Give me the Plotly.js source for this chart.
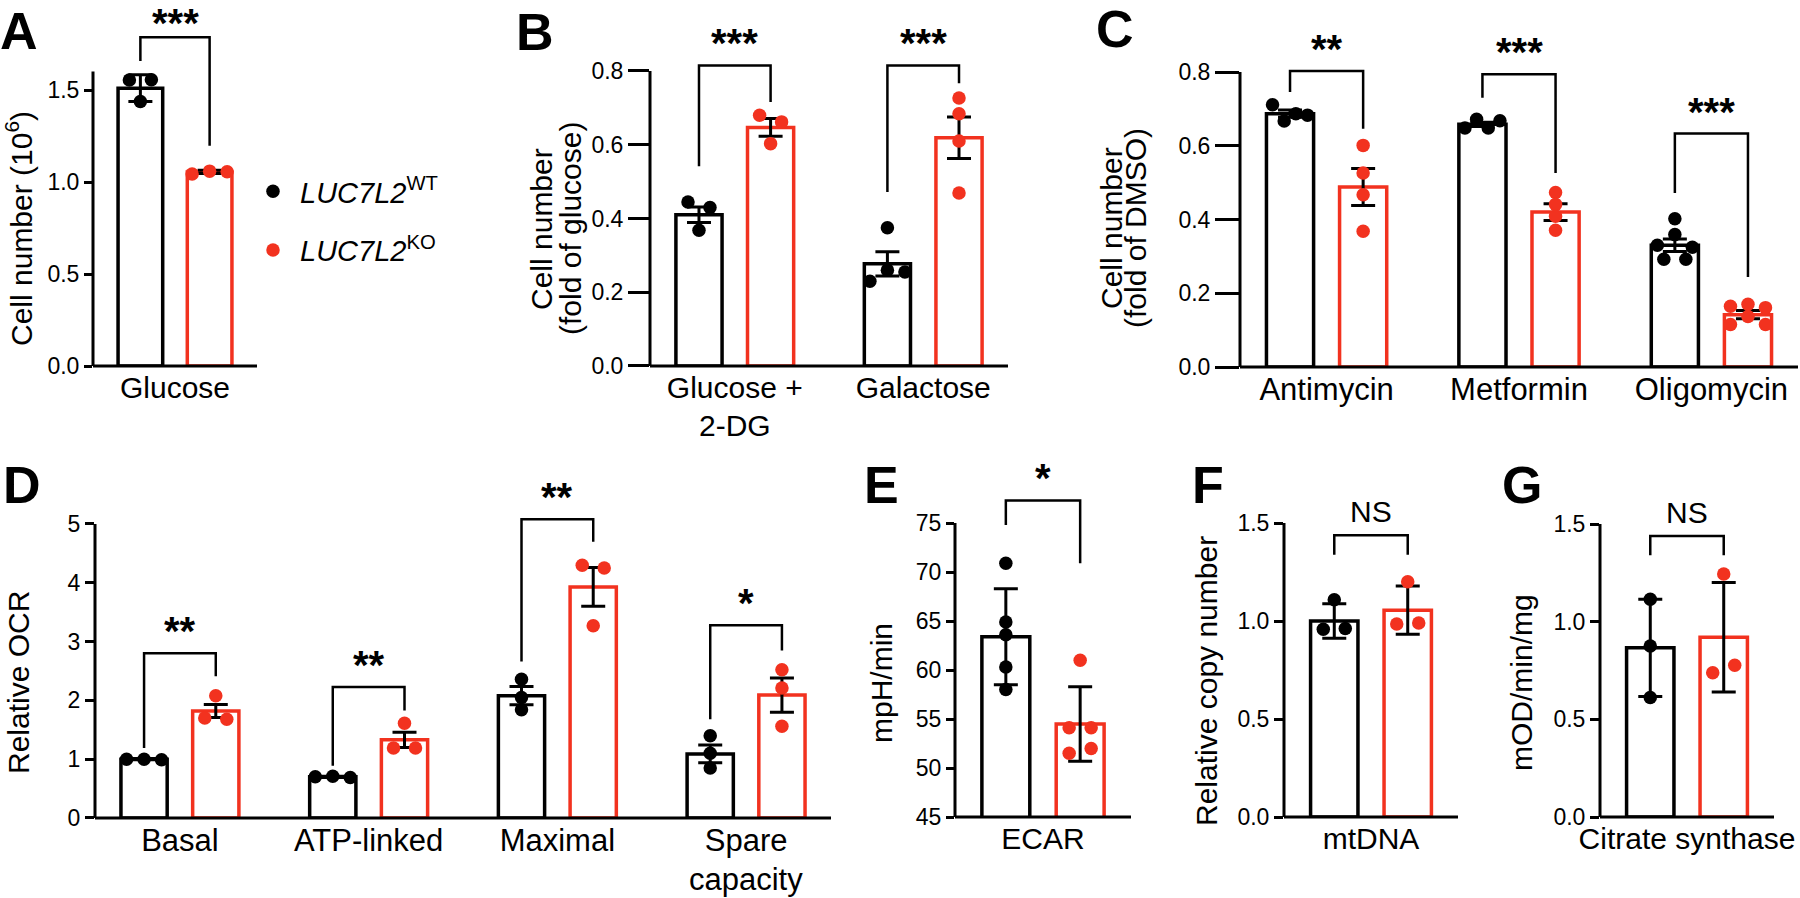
<!DOCTYPE html>
<html><head><meta charset="utf-8">
<script src="https://cdn.plot.ly/plotly-3.0.1.min.js"></script>
<style>html,body{margin:0;padding:0;background:#fff}#chart{width:1800px;height:898px}</style>
</head><body><div id="chart"></div>
<script>
// ---------------- DATA ----------------
const groupNames = ['<i>LUC7L2</i><sup>WT</sup>', '<i>LUC7L2</i><sup>KO</sup>'];

// A
const aCategories = ['Glucose'];
const aWtMean = [1.51];  const aWtErr = [0.073];
const aKoMean = [1.055]; const aKoErr = [0.009];
const aWtPoints = [[1.554, 1.556, 1.437]];
const aKoPoints = [[1.043, 1.059, 1.056]];
const aTicks = [0, 0.5, 1.0, 1.5];
const aSig = ['***']; const aBrTop = [1.787]; const aBrLeft = [1.658]; const aBrRight = [1.197];

// B
const bCategories = ['Glucose +<br>2-DG', 'Galactose'];
const bWtMean = [0.41, 0.277]; const bWtErr = [0.021, 0.033];
const bKoMean = [0.647, 0.619]; const bKoErr = [0.024, 0.056];
const bWtPoints = [[0.445, 0.43, 0.368], [0.375, 0.23, 0.26, 0.255]];
const bKoPoints = [[0.68, 0.662, 0.603], [0.727, 0.684, 0.61, 0.469]];
const bTicks = [0, 0.2, 0.4, 0.6, 0.8];
const bSig = ['***', '***']; const bBrTop = [0.815, 0.815]; const bBrLeft = [0.542, 0.472]; const bBrRight = [0.716, 0.767];

// C
const cCategories = ['Antimycin', 'Metformin', 'Oligomycin'];
const cWtMean = [0.687, 0.658, 0.33]; const cWtErr = [0.01, 0.006, 0.017];
const cKoMean = [0.488, 0.42, 0.142]; const cKoErr = [0.05, 0.023, 0.011];
const cWtPoints = [[0.711, 0.667, 0.687, 0.683], [0.648, 0.672, 0.648, 0.668], [0.292, 0.33, 0.402, 0.359, 0.292, 0.325]];
const cKoPoints = [[0.601, 0.526, 0.467, 0.368], [0.473, 0.441, 0.409, 0.371], [0.115, 0.165, 0.170, 0.137, 0.161, 0.115]];
const cTicks = [0, 0.2, 0.4, 0.6, 0.8];
const cSig = ['**', '***', '***']; const cBrTop = [0.803, 0.794, 0.633]; const cBrLeft = [0.746, 0.73, 0.472]; const cBrRight = [0.646, 0.526, 0.244];

// D
const dCategories = ['Basal', 'ATP-linked', 'Maximal', 'Spare<br>capacity'];
const dWtMean = [1.0, 0.70, 2.08, 1.09]; const dWtErr = [0.01, 0.01, 0.155, 0.15];
const dKoMean = [1.82, 1.33, 3.93, 2.09]; const dKoErr = [0.11, 0.13, 0.33, 0.29];
const dWtPoints = [[1.0, 1.0, 0.99], [0.70, 0.71, 0.69], [2.36, 2.05, 1.84], [1.40, 1.10, 0.85]];
const dKoPoints = [[1.70, 2.08, 1.68], [1.19, 1.61, 1.19], [4.30, 4.25, 3.27], [2.52, 2.21, 1.56]];
const dTicks = [0, 1, 2, 3, 4, 5];
const dSig = ['**', '**', '**', '*']; const dBrTop = [2.80, 2.23, 5.08, 3.28]; const dBrLeft = [1.19, 0.89, 2.66, 1.68]; const dBrRight = [2.41, 1.83, 4.70, 2.85];

// E
const eCategories = ['ECAR'];
const eWtMean = [63.4]; const eWtErr = [4.9];
const eKoMean = [54.5]; const eKoErr = [3.8];
const eWtPoints = [[70.9, 64.9, 63.6, 60.3, 58.0]];
const eKoPoints = [[61.0, 54.1, 51.5, 54.1, 52.0]];
const eTicks = [45, 50, 55, 60, 65, 70, 75];
const eSig = ['*']; const eBrTop = [77.3]; const eBrLeft = [74.8]; const eBrRight = [70.9];

// F
const fCategories = ['mtDNA'];
const fWtMean = [1.0]; const fWtErr = [0.088];
const fKoMean = [1.055]; const fKoErr = [0.123];
const fWtPoints = [[0.958, 1.108, 0.962]];
const fKoPoints = [[0.985, 1.20, 0.99]];
const fTicks = [0, 0.5, 1.0, 1.5];
const fSig = ['NS']; const fBrTop = [1.437]; const fBrLeft = [1.338]; const fBrRight = [1.338];

// G
const gCategories = ['Citrate synthase'];
const gWtMean = [0.866]; const gWtErr = [0.249];
const gKoMean = [0.92]; const gKoErr = [0.28];
const gWtPoints = [[1.115, 0.875, 0.612]];
const gKoPoints = [[0.738, 1.244, 0.777]];
const gTicks = [0, 0.5, 1.0, 1.5];
const gSig = ['NS']; const gBrTop = [1.438]; const gBrLeft = [1.34]; const gBrRight = [1.34];

// ---------------- STYLE / LAYOUT ----------------
const W = 1800, H = 898;
const FONT = 'Liberation Sans, Arial, Helvetica, sans-serif';
const RED = '#f2321f';
const BLK = '#000000';
const MARGIN_U = 0.45, BAR_OFF = 0.19, BAR_W = 0.245;
const LABEL_LIFT = 5;   // px the category label axis sits above the drawn axis line

const panels = [
  {letter:'A', lx:19, ly:31, cats:aCategories, wm:aWtMean, we:aWtErr, km:aKoMean, ke:aKoErr, wp:aWtPoints, kp:aKoPoints, ticks:aTicks, fmt:'.1f',
   sig:aSig, bt:aBrTop, bl:aBrLeft, br:aBrRight, x0:93, x1:257, zeroPx:366, rmin:0, refVal:1.5, refPx:90, axisTop:1.6, tickLen:8, catSize:30, line2:59, starShift:14,
   titles:[{t:'Cell number (10<sup>6</sup>)', x:19, y:229}]},
  {letter:'B', lx:535, ly:32, cats:bCategories, wm:bWtMean, we:bWtErr, km:bKoMean, ke:bKoErr, wp:bWtPoints, kp:bKoPoints, ticks:bTicks, fmt:'.1f',
   sig:bSig, bt:bBrTop, bl:bBrLeft, br:bBrRight, x0:650, x1:1008, zeroPx:366, rmin:0, refVal:0.8, refPx:71, axisTop:0.8, tickLen:21, catSize:30, line2:59, starShift:22,
   titles:[{t:'Cell number', x:541, y:229}, {t:'(fold of glucose)', x:570, y:229}]},
  {letter:'C', lx:1115, ly:29, cats:cCategories, wm:cWtMean, we:cWtErr, km:cKoMean, ke:cKoErr, wp:cWtPoints, kp:cKoPoints, ticks:cTicks, fmt:'.1f',
   sig:cSig, bt:cBrTop, bl:cBrLeft, br:cBrRight, x0:1240, x1:1798, zeroPx:367, rmin:0, refVal:0.8, refPx:72, axisTop:0.8, tickLen:24, catSize:31, line2:59, starShift:22,
   titles:[{t:'Cell number', x:1112, y:228}, {t:'(fold of DMSO)', x:1136, y:228}]},
  {letter:'D', lx:22, ly:485, cats:dCategories, wm:dWtMean, we:dWtErr, km:dKoMean, ke:dKoErr, wp:dWtPoints, kp:dKoPoints, ticks:dTicks, fmt:'d',
   sig:dSig, bt:dBrTop, bl:dBrLeft, br:dBrRight, x0:95, x1:831, zeroPx:818, rmin:0, refVal:5, refPx:524, axisTop:5, tickLen:9, catSize:31, line2:61, starShift:22,
   titles:[{t:'Relative OCR', x:18, y:683}]},
  {letter:'E', lx:881, ly:485, cats:eCategories, wm:eWtMean, we:eWtErr, km:eKoMean, ke:eKoErr, wp:eWtPoints, kp:eKoPoints, ticks:eTicks, fmt:'d',
   sig:eSig, bt:eBrTop, bl:eBrLeft, br:eBrRight, x0:955, x1:1131, zeroPx:817, rmin:45, refVal:75, refPx:523, axisTop:75, tickLen:8, catSize:30, line2:61, starShift:22,
   titles:[{t:'mpH/min', x:881, y:683}]},
  {letter:'F', lx:1208, ly:485, cats:fCategories, wm:fWtMean, we:fWtErr, km:fKoMean, ke:fKoErr, wp:fWtPoints, kp:fKoPoints, ticks:fTicks, fmt:'.1f',
   sig:fSig, bt:fBrTop, bl:fBrLeft, br:fBrRight, x0:1284, x1:1458, zeroPx:817, rmin:0, refVal:1.5, refPx:523, axisTop:1.5, tickLen:9, catSize:30, line2:61, starShift:24,
   titles:[{t:'Relative copy number', x:1206, y:681}]},
  {letter:'G', lx:1522, ly:485, cats:gCategories, wm:gWtMean, we:gWtErr, km:gKoMean, ke:gKoErr, wp:gWtPoints, kp:gKoPoints, ticks:gTicks, fmt:'.1f',
   sig:gSig, bt:gBrTop, bl:gBrLeft, br:gBrRight, x0:1600, x1:1774, zeroPx:817, rmin:0, refVal:1.5, refPx:524, axisTop:1.5, tickLen:9, catSize:30, line2:61, starShift:24,
   titles:[{t:'mOD/min/mg', x:1521, y:683}]}
];

// simple GraphPad-like point spreading (in pixels -> x units)
function spread(vals, ppuY, ppuX) {
  const D = 11, MAXS = 22, BARPX = 47, DOT = 12;
  const off = vals.map(() => 0);
  if (!vals.length) return off;
  const order = vals.map((v, i) => i).sort((a, b) => vals[b] - vals[a]);
  const clusters = [];
  let cur = [order[0]];
  for (let k = 1; k < order.length; k++) {
    if ((vals[order[k - 1]] - vals[order[k]]) * ppuY < D) cur.push(order[k]);
    else { clusters.push(cur); cur = [order[k]]; }
  }
  clusters.push(cur);
  clusters.forEach(c => {
    const rows = [];
    if (c.length <= 4) rows.push(c); else for (let i = 0; i < c.length; i += 3) rows.push(c.slice(i, i + 3));
    rows.forEach(r => {
      const k = r.length; if (k < 2) return;
      const s = Math.min(MAXS, (BARPX - DOT) / (k - 1));
      r.slice().sort((a, b) => a - b).forEach((ii, j) => { off[ii] = (j - (k - 1) / 2) * s / ppuX; });
    });
  });
  return off;
}

const traces = [], shapes = [], annotations = [];
const layout = {
  width: W, height: H, margin: {l: 0, r: 0, t: 0, b: 0}, paper_bgcolor: '#fff', plot_bgcolor: 'rgba(0,0,0,0)',
  font: {family: FONT, color: BLK}, showlegend: true, bargap: 0,
  legend: {x: 246 / W, xanchor: 'left', y: 1 - 166 / H, yanchor: 'top', font: {size: 29, family: FONT, color: BLK},
           bgcolor: 'rgba(0,0,0,0)', borderwidth: 0, tracegroupgap: 18, itemwidth: 44, itemclick: false, itemdoubleclick: false}
};

panels.forEach((p, pi) => {
  const n = p.cats.length;
  const sfx = pi === 0 ? '' : String(pi + 1);
  const xa = 'x' + sfx, ya = 'y' + sfx;
  const ppuY = (p.zeroPx - p.refPx) / (p.refVal - p.rmin);
  const rmax = Math.max(p.axisTop, Math.max(...p.bt) + 6 / ppuY);
  const topPx = p.zeroPx - (rmax - p.rmin) * ppuY;
  const xr = [-MARGIN_U, n - 1 + MARGIN_U];
  const ppuX = (p.x1 - p.x0) / (xr[1] - xr[0]);
  const idx = p.cats.map((c, i) => i);
  const firstLines = p.cats.map(c => c.split('<br>')[0]);

  layout['xaxis' + sfx] = {domain: [p.x0 / W, p.x1 / W], anchor: 'free', position: (H - p.zeroPx + LABEL_LIFT) / H,
    range: xr, fixedrange: true, showline: false, ticks: '', showgrid: false, zeroline: false,
    tickvals: idx, ticktext: firstLines, tickfont: {size: p.catSize, family: FONT, color: BLK}, ticklabelstandoff: 6};
  layout['yaxis' + sfx] = {domain: [(H - p.zeroPx) / H, (H - topPx) / H], anchor: xa, range: [p.rmin, rmax], fixedrange: true,
    showline: false, ticks: 'outside', ticklen: p.tickLen, tickwidth: 3, tickcolor: BLK, showgrid: false, zeroline: false,
    tickvals: p.ticks, tickformat: p.fmt, tickfont: {size: 23, family: FONT, color: BLK}};

  // axis lines (x full width, y up to the last tick)
  shapes.push({type: 'line', xref: xa + ' domain', yref: ya + ' domain', x0: 0, x1: 1, y0: 0, y1: 0, line: {color: BLK, width: 3}});
  shapes.push({type: 'line', xref: xa + ' domain', yref: ya + ' domain', x0: 0, x1: 0, y0: 0,
    y1: (p.axisTop - p.rmin) / (rmax - p.rmin), line: {color: BLK, width: 3}});

  // second lines of two-line category labels
  p.cats.forEach((c, i) => {
    const parts = c.split('<br>');
    parts.slice(1).forEach((t, k) => annotations.push({xref: xa, yref: 'paper', x: i, y: 1 - (p.zeroPx + p.line2 + k * 36) / H,
      text: t, showarrow: false, xanchor: 'center', yanchor: 'middle', font: {size: p.catSize, family: FONT, color: BLK}}));
  });

  const groupsDef = [
    {mean: p.wm, err: p.we, pts: p.wp, color: BLK, off: -BAR_OFF, name: groupNames[0]},
    {mean: p.km, err: p.ke, pts: p.kp, color: RED, off: BAR_OFF, name: groupNames[1]}
  ];
  groupsDef.forEach(g => {
    traces.push({type: 'bar', xaxis: xa, yaxis: ya, x: idx.map(i => i + g.off), y: g.mean, width: idx.map(() => BAR_W),
      marker: {color: '#ffffff', line: {color: g.color, width: 3.5}}, showlegend: false, hoverinfo: 'skip',
      error_y: {type: 'data', array: g.err, visible: true, color: BLK, thickness: 3, width: 12}});
  });
  groupsDef.forEach((g, gi) => {
    const xs = [], ys = [];
    g.pts.forEach((arr, i) => {
      const o = spread(arr, ppuY, ppuX);
      arr.forEach((v, j) => { xs.push(i + g.off + o[j]); ys.push(v); });
    });
    traces.push({type: 'scatter', mode: 'markers', xaxis: xa, yaxis: ya, x: xs, y: ys, name: g.name,
      legendgroup: 'g' + gi, showlegend: pi === 0, marker: {color: g.color, size: 13.5, line: {width: 0}}, hoverinfo: 'skip'});
  });

  // significance brackets
  p.sig.forEach((s, i) => {
    shapes.push({type: 'path', xref: xa, yref: ya,
      path: `M ${i - BAR_OFF},${p.bl[i]} L ${i - BAR_OFF},${p.bt[i]} L ${i + BAR_OFF},${p.bt[i]} L ${i + BAR_OFF},${p.br[i]}`,
      line: {color: BLK, width: 2.5}});
    const isNS = s === 'NS';
    annotations.push({xref: xa, yref: ya, x: i, y: p.bt[i], text: isNS ? s : '<b>' + s + '</b>', showarrow: false,
      xanchor: 'center', yanchor: 'middle', yshift: p.starShift,
      font: {size: isNS ? 30 : 40, family: FONT, color: BLK}});
  });

  // axis titles
  p.titles.forEach(t => annotations.push({xref: 'paper', yref: 'paper', x: t.x / W, y: 1 - t.y / H, text: t.t, textangle: -90,
    showarrow: false, xanchor: 'center', yanchor: 'middle', font: {size: 30, family: FONT, color: BLK}}));

  // panel letter
  annotations.push({xref: 'paper', yref: 'paper', x: p.lx / W, y: 1 - p.ly / H, text: '<b>' + p.letter + '</b>', showarrow: false,
    xanchor: 'center', yanchor: 'middle', font: {size: 52, family: FONT, color: BLK}});
});

layout.shapes = shapes;
layout.annotations = annotations;
Plotly.newPlot('chart', traces, layout, {staticPlot: true, displayModeBar: false});
</script>
</body></html>
